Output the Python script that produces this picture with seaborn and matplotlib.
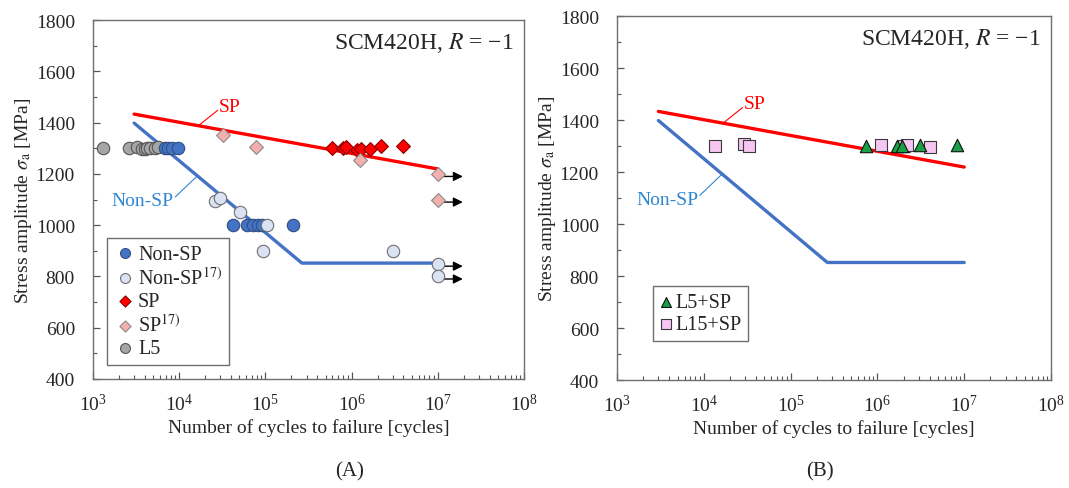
import numpy as np
import pandas as pd
import matplotlib
matplotlib.use("Agg")
import matplotlib.pyplot as plt
import matplotlib.ticker as ticker
import seaborn as sns

# ---- data ----
# panel A
nonsp_n = [6.9e3, 7.5e3, 8.3e3, 9.7e3, 4.2e4, 6.1e4, 7.2e4, 8.2e4, 9.1e4, 2.1e5]
nonsp_s = [1300, 1300, 1300, 1300, 1000, 1000, 1000, 1000, 1000, 1000]
nonsp17_n = [2.6e4, 3.0e4, 5.1e4, 1.05e5, 9.4e4, 3.0e6, 1e7, 1e7]
nonsp17_s = [1095, 1105, 1050, 1000, 900, 900, 850, 800]
sp_n = [6.0e5, 7.9e5, 8.5e5, 1.17e6, 1.3e6, 1.63e6, 2.2e6, 4.0e6]
sp_s = [1300, 1300, 1303, 1293, 1296, 1297, 1309, 1309]
sp17_n = [3.2e4, 7.8e4, 1.25e6, 1e7, 1e7]
sp17_s = [1350, 1305, 1255, 1200, 1100]
l5_n = [1.3e3, 2.6e3, 3.2e3, 3.7e3, 4.0e3, 4.2e3, 4.6e3, 5.2e3, 5.7e3]
l5_s = [1300, 1302, 1303, 1298, 1295, 1300, 1300, 1302, 1303]
runout_s = [1200, 1100, 850, 800]

# panel B
l5sp_n = [7.4e5, 1.7e6, 1.9e6, 3.1e6, 8.3e6]
l5sp_s = [1300, 1300, 1300, 1302, 1305]
l15sp_n = [1.35e4, 2.9e4, 3.3e4, 1.1e6, 2.0e6, 2.2e6, 4.0e6]
l15sp_s = [1300, 1308, 1300, 1304, 1300, 1302, 1295]

# S-N design lines
sp_line_n = [3e3, 1e7]
sp_line_s = [1433, 1219]
nonsp_line_n = [3e3, 2.65e5, 1e7]
nonsp_line_s = [1398, 852, 852]

sns.set_theme(style="white")
plt.rcParams["font.family"] = ["Liberation Serif", "DejaVu Serif"]
plt.rcParams["mathtext.fontset"] = "stix"

RED = "#FF0000"
BLUE = "#4472C4"
LBLUE_TXT = "#2E86D0"

fig = plt.figure(figsize=(10.69, 4.89), dpi=100)
axA = fig.add_axes([93 / 1069, 1 - 380 / 489, 431 / 1069, 359 / 489])
axB = fig.add_axes([617 / 1069, 1 - 381 / 489, 434 / 1069, 364 / 489])


def style_axis(ax):
    ax.set_xscale("log")
    ax.set_xlim(1e3, 1e8)
    ax.set_ylim(400, 1800)
    ax.yaxis.set_major_locator(ticker.MultipleLocator(200))
    ax.yaxis.set_minor_locator(ticker.MultipleLocator(100))
    ax.xaxis.set_major_locator(ticker.LogLocator(base=10, numticks=10))
    ax.xaxis.set_minor_locator(ticker.LogLocator(base=10, subs=np.arange(2, 10), numticks=10))
    ax.xaxis.set_minor_formatter(ticker.NullFormatter())
    ax.tick_params(which="major", direction="in", length=5, width=0.9, color="#555555",
                   labelsize=14, bottom=True, left=True)
    ax.tick_params(which="minor", direction="in", length=3, width=0.8, color="#555555",
                   bottom=True, left=True)
    ax.tick_params(axis="x", which="major", pad=10)
    ax.tick_params(axis="y", which="major", pad=13)
    for sp in ax.spines.values():
        sp.set_color("#6e6e6e")
        sp.set_linewidth(1.0)
    ax.set_xlabel("Number of cycles to failure [cycles]", fontsize=14, labelpad=3)
    ax.set_ylabel(r"Stress amplitude $\sigma_{\mathrm{a}}$ [MPa]", fontsize=14, labelpad=1)
    ax.text(0.975, 0.94, "SCM420H, $R$ = \u22121", transform=ax.transAxes,
            ha="right", va="center", fontsize=17)


def draw_lines(ax):
    sns.lineplot(x=sp_line_n, y=sp_line_s, ax=ax, color=RED, lw=2.4, zorder=2, legend=False)
    sns.lineplot(x=nonsp_line_n, y=nonsp_line_s, ax=ax, color=BLUE, lw=2.4, zorder=2,
                 legend=False, sort=False)
    # line labels with leaders
    ax.plot([1.7e4, 2.8e4], [1390, 1448], color=RED, lw=0.8)
    ax.text(2.9e4, 1462, "SP", color=RED, fontsize=14, ha="left", va="center")
    ax.plot([1.6e4, 9.0e3], [1190, 1110], color=LBLUE_TXT, lw=0.8)
    ax.text(8.6e3, 1095, "Non-SP", color=LBLUE_TXT, fontsize=14, ha="right", va="center")


def pts(ax, n, s, marker, face, edge, size, label, z=3):
    df = pd.DataFrame({"N": n, "S": s})
    sns.scatterplot(data=df, x="N", y="S", ax=ax, marker=marker, color=face,
                    edgecolor=edge, linewidth=0.8, s=size, label=label, zorder=z)


LEG_KW = dict(loc="lower left", fontsize=14.5, frameon=True, fancybox=False,
              edgecolor="#6e6e6e", framealpha=1, labelspacing=0.15,
              borderpad=0.35, markerscale=0.8, borderaxespad=0)

# ---- panel A ----
style_axis(axA)
draw_lines(axA)
pts(axA, nonsp_n, nonsp_s, "o", BLUE, "#2f4f80", 80, "Non-SP", 4)
pts(axA, nonsp17_n, nonsp17_s, "o", "#DAE3F3", "#6f6f6f", 80, r"Non-SP$^{17)}$", 5)
pts(axA, sp_n, sp_s, "D", RED, "#8b0000", 50, "SP", 4)
pts(axA, sp17_n, sp17_s, "D", "#F4AFAF", "#8a8a8a", 50, r"SP$^{17)}$", 4)
pts(axA, l5_n, l5_s, "o", "#A6A6A6", "#555555", 80, "L5", 3)

for s in runout_s:
    axA.annotate("", xy=(1.95e7, s - 10), xytext=(1.12e7, s - 10),
                 arrowprops=dict(arrowstyle="-|>", color="black", lw=1.0, mutation_scale=14,
                                 shrinkA=0, shrinkB=0))

legA = axA.legend(bbox_to_anchor=(0.032, 0.039), handlelength=1.1, handletextpad=0.1,
                  **LEG_KW)
legA.get_frame().set_linewidth(1.0)

# ---- panel B ----
style_axis(axB)
draw_lines(axB)
pts(axB, l15sp_n, l15sp_s, "s", "#F5C6F2", "#3a3a3a", 75, "L15+SP", 4)
pts(axB, l5sp_n, l5sp_s, "^", "#17A045", "#111111", 80, "L5+SP", 5)
handles, labels = axB.get_legend_handles_labels()
legB = axB.legend(handles[::-1], labels[::-1], bbox_to_anchor=(0.083, 0.107),
                  handlelength=0.6, handletextpad=0.15, **LEG_KW)
legB.get_frame().set_linewidth(1.0)

fig.text(350 / 1069, 1 - 472 / 489, "(A)", ha="center", va="center", fontsize=15)
fig.text(820 / 1069, 1 - 472 / 489, "(B)", ha="center", va="center", fontsize=15)

fig.savefig("out.png", dpi=100)
